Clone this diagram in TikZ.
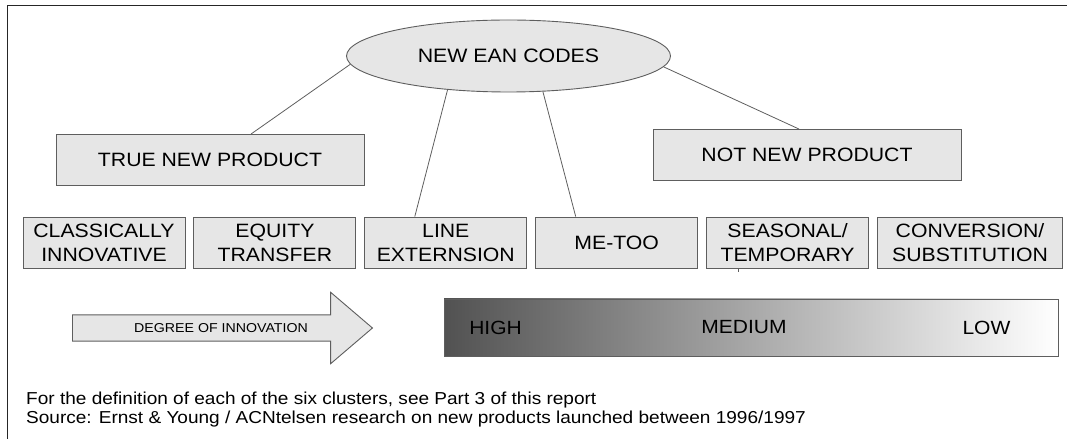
\documentclass[tikz,border=0pt]{standalone}
\usepackage{fontspec}
\setmainfont{Liberation Sans}[FakeStretch=1.1]
\usepackage{tikz}
\usetikzlibrary{positioning,shapes,shapes.arrows}
\definecolor{boxfill}{HTML}{E6E6E6}
\definecolor{boxline}{HTML}{5E5E5E}
\tikzstyle{category}=[rectangle, draw=boxline, fill=boxfill, line width=0.9pt, minimum width=308pt, minimum height=51pt, font=\fontsize{19.3}{24}\selectfont]
\tikzstyle{cluster}=[rectangle, draw=boxline, fill=boxfill, line width=0.9pt, minimum height=51pt, inner sep=0pt, align=center, font=\fontsize{19.3}{24}\selectfont]
\tikzstyle{link}=[draw=boxline, line width=0.8pt]
\tikzstyle{note}=[inner sep=0pt, anchor=base west, font=\fontsize{17.3}{18}\selectfont]

\begin{document}
\begin{tikzpicture}[x=1pt, y=1pt]
    \useasboundingbox (0,0) rectangle (1067,439);
    \draw[line width=1pt, black!85] (1067,433) -- (7,433) -- (7,0);

        \node (codes)[ellipse, draw=boxline, fill=boxfill, line width=0.9pt, minimum width=324pt, minimum height=72pt, inner sep=0pt, font=\fontsize{19.4}{24}\selectfont] at (508.5,383) {NEW EAN CODES};

        \node (trueNew)[category] at (210,279) {TRUE NEW PRODUCT};
        \node (notNew)[category] at (807,284) {NOT NEW PRODUCT};

        \node (cluster1)[cluster, minimum width=162pt] at (104,196.5) {CLASSICALLY\\INNOVATIVE};
        \foreach \x/\w/\txt [remember=\x as \lastx (initially 1)] in {2/162/{EQUITY\\TRANSFER}, 3/162/{LINE\\EXTERNSION}, 4/162/{ME-TOO}, 5/162/{SEASONAL/\\TEMPORARY}, 6/185/{CONVERSION/\\SUBSTITUTION}}{
            \node(cluster\x)[cluster, minimum width=\w pt, right=8pt of cluster\lastx]{\txt};
        };

        \draw[link] (codes.183) -- ([xshift=41pt]trueNew.north);
        \draw[link] (codes.209) -- ([xshift=-31pt]cluster3.north);
        \draw[link] (codes.314) -- ([xshift=-41pt]cluster4.north);
        \draw[link] (codes.356) -- ([xshift=-8pt]notNew.north);

        \coordinate (tick) at ([xshift=-49pt]cluster5.south);
        \draw[link] (tick) -- ++(0,-4);

        \node (innovation)[single arrow, draw=boxline, fill=boxfill, line width=0.9pt, anchor=tail, minimum height=300pt, text height=9pt, text depth=2.5pt, inner ysep=6.85pt, single arrow head extend=22.7pt, single arrow tip angle=81] at (72,111) {};
        \node (innovationLabel)[font=\fontsize{12.9}{14}\selectfont] at ([xshift=149pt]innovation.tail) {DEGREE OF INNOVATION};

        \node (scale)[rectangle, draw=boxline, line width=0.9pt, left color=black!68, right color=white, minimum width=614pt, minimum height=57pt] at (751,111.5) {};
        \node (high)[font=\fontsize{19.1}{24}\selectfont] at ([xshift=52pt]scale.west) {HIGH};
        \node (medium)[font=\fontsize{19.1}{24}\selectfont] at ([xshift=-7pt]scale.center) {MEDIUM};
        \node (low)[font=\fontsize{19.1}{24}\selectfont] at ([xshift=-72pt]scale.east) {LOW};

        \node (definition)[note] at (26,34.5) {For the definition of each of the six clusters, see Part 3 of this report};
        \node (source)[note] at ([yshift=-18.5pt]definition.base west) {Source: Ernst \& Young / ACNtelsen research on new products launched between 1996/1997};

    \end{tikzpicture}
\end{document}
